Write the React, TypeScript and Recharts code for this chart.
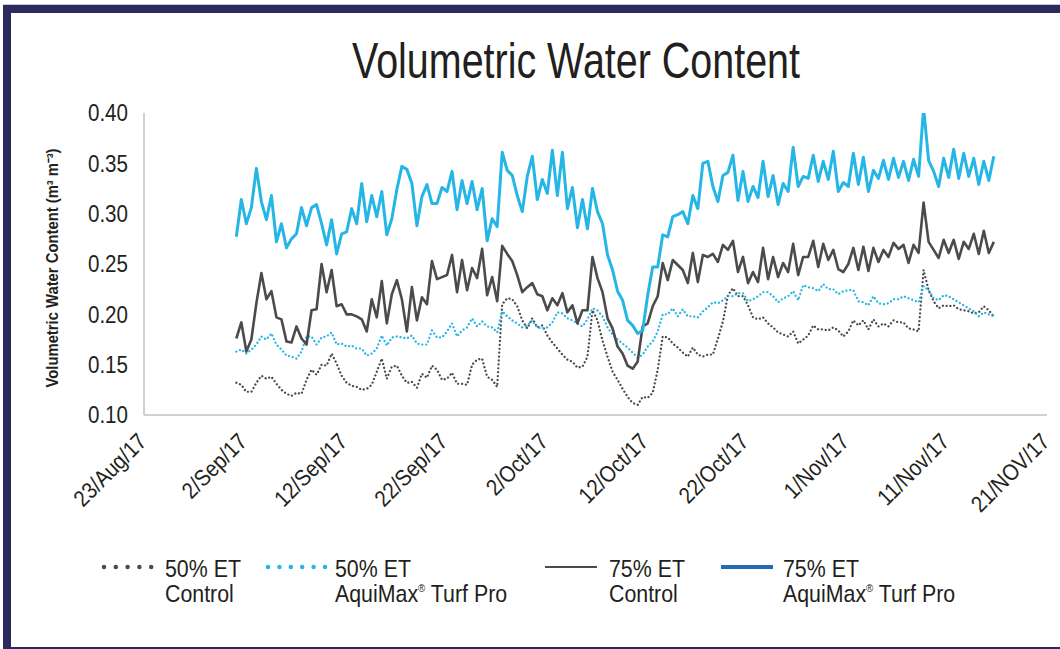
import { LineChart, Line, XAxis, YAxis } from 'recharts';

const FONT = '"Liberation Sans", Arial, Helvetica, sans-serif';
const INK = '#231f20';
const CYAN = '#26b6e6';
const GREY = '#4b4b4d';
const NAVY = '#2b2a5f';

// one reading every 12 h, the first on 1/Sep/17 (days counted from 23/Aug/17)
const FIRST_DAY = 9.2;
const STEP_DAYS = 0.5;

// 50% ET, control
const et50Control = [
  0.132, 0.130, 0.123, 0.123, 0.132, 0.139, 0.136, 0.138, 0.131, 0.125,
  0.121, 0.119, 0.122, 0.121, 0.135, 0.145, 0.140, 0.150, 0.149, 0.161,
  0.151, 0.139, 0.132, 0.129, 0.128, 0.125, 0.126, 0.130, 0.143, 0.156,
  0.136, 0.148, 0.149, 0.139, 0.132, 0.133, 0.127, 0.141, 0.137, 0.149,
  0.145, 0.135, 0.136, 0.142, 0.131, 0.131, 0.130, 0.150, 0.155, 0.156,
  0.138, 0.135, 0.128, 0.210, 0.216, 0.215, 0.208, 0.194, 0.186, 0.196,
  0.187, 0.189, 0.179, 0.172, 0.166, 0.160, 0.155, 0.153, 0.147, 0.148,
  0.158, 0.204, 0.194, 0.174, 0.158, 0.143, 0.135, 0.126, 0.118, 0.112,
  0.110, 0.118, 0.117, 0.122, 0.145, 0.178, 0.177, 0.171, 0.167, 0.162,
  0.158, 0.167, 0.160, 0.158, 0.160, 0.160, 0.176, 0.193, 0.219, 0.226,
  0.218, 0.218, 0.209, 0.197, 0.195, 0.197, 0.191, 0.187, 0.182, 0.180,
  0.178, 0.183, 0.171, 0.175, 0.179, 0.189, 0.185, 0.185, 0.184, 0.187,
  0.184, 0.178, 0.183, 0.194, 0.189, 0.194, 0.185, 0.195, 0.188, 0.191,
  0.188, 0.194, 0.192, 0.192, 0.186, 0.185, 0.183, 0.244, 0.224, 0.213,
  0.206, 0.209, 0.208, 0.209, 0.205, 0.204, 0.203, 0.201, 0.202, 0.208,
  0.204, 0.198,
];

// 50% ET, AquiMax Turf Pro
const et50Aquimax = [
  0.163, 0.165, 0.161, 0.165, 0.170, 0.178, 0.175, 0.181, 0.170, 0.165,
  0.159, 0.158, 0.156, 0.163, 0.178, 0.178, 0.170, 0.177, 0.178, 0.182,
  0.170, 0.171, 0.168, 0.169, 0.166, 0.166, 0.159, 0.161, 0.166, 0.179,
  0.169, 0.177, 0.178, 0.177, 0.176, 0.179, 0.171, 0.170, 0.170, 0.184,
  0.177, 0.177, 0.183, 0.191, 0.178, 0.184, 0.187, 0.196, 0.188, 0.193,
  0.188, 0.187, 0.182, 0.203, 0.198, 0.194, 0.191, 0.187, 0.189, 0.194,
  0.187, 0.186, 0.187, 0.192, 0.202, 0.201, 0.196, 0.194, 0.191, 0.188,
  0.195, 0.206, 0.204, 0.198, 0.187, 0.180, 0.175, 0.171, 0.167, 0.162,
  0.157, 0.160, 0.168, 0.173, 0.183, 0.200, 0.200, 0.206, 0.198, 0.205,
  0.198, 0.198, 0.197, 0.203, 0.207, 0.212, 0.211, 0.214, 0.218, 0.218,
  0.221, 0.221, 0.213, 0.215, 0.218, 0.222, 0.222, 0.218, 0.212, 0.216,
  0.218, 0.223, 0.214, 0.229, 0.227, 0.226, 0.223, 0.230, 0.225, 0.225,
  0.220, 0.223, 0.224, 0.224, 0.213, 0.212, 0.209, 0.218, 0.211, 0.210,
  0.211, 0.215, 0.215, 0.218, 0.216, 0.214, 0.212, 0.228, 0.224, 0.216,
  0.214, 0.219, 0.218, 0.215, 0.212, 0.209, 0.206, 0.203, 0.198, 0.202,
  0.200, 0.198,
];

// 75% ET, control
const et75Control = [
  0.176, 0.192, 0.163, 0.175, 0.211, 0.241, 0.215, 0.223, 0.197, 0.195,
  0.173, 0.172, 0.188, 0.176, 0.170, 0.204, 0.205, 0.250, 0.222, 0.244,
  0.208, 0.210, 0.200, 0.200, 0.198, 0.195, 0.183, 0.215, 0.197, 0.233,
  0.191, 0.220, 0.234, 0.215, 0.183, 0.227, 0.194, 0.217, 0.210, 0.253,
  0.235, 0.237, 0.239, 0.259, 0.222, 0.254, 0.224, 0.246, 0.236, 0.265,
  0.219, 0.237, 0.213, 0.268, 0.260, 0.253, 0.239, 0.222, 0.227, 0.231,
  0.220, 0.218, 0.204, 0.216, 0.209, 0.221, 0.202, 0.209, 0.191, 0.204,
  0.204, 0.257, 0.236, 0.222, 0.196, 0.186, 0.168, 0.161, 0.149, 0.146,
  0.153, 0.188, 0.191, 0.208, 0.218, 0.251, 0.234, 0.254, 0.249, 0.244,
  0.231, 0.261, 0.232, 0.259, 0.257, 0.260, 0.252, 0.269, 0.264, 0.273,
  0.242, 0.257, 0.231, 0.242, 0.232, 0.266, 0.235, 0.257, 0.237, 0.251,
  0.242, 0.270, 0.239, 0.257, 0.257, 0.273, 0.247, 0.270, 0.254, 0.264,
  0.245, 0.242, 0.250, 0.266, 0.244, 0.267, 0.243, 0.266, 0.252, 0.264,
  0.257, 0.271, 0.265, 0.269, 0.251, 0.269, 0.261, 0.311, 0.272, 0.264,
  0.256, 0.274, 0.261, 0.274, 0.255, 0.272, 0.265, 0.280, 0.260, 0.283,
  0.261, 0.272,
];

// 75% ET, AquiMax Turf Pro
const et75Aquimax = [
  0.277, 0.314, 0.290, 0.306, 0.345, 0.312, 0.294, 0.318, 0.272, 0.290,
  0.266, 0.275, 0.280, 0.306, 0.288, 0.306, 0.309, 0.290, 0.269, 0.294,
  0.260, 0.280, 0.282, 0.305, 0.290, 0.330, 0.292, 0.318, 0.297, 0.322,
  0.279, 0.295, 0.324, 0.347, 0.344, 0.330, 0.288, 0.317, 0.329, 0.310,
  0.310, 0.326, 0.322, 0.342, 0.304, 0.333, 0.310, 0.332, 0.304, 0.325,
  0.273, 0.295, 0.287, 0.361, 0.343, 0.338, 0.318, 0.302, 0.337, 0.357,
  0.314, 0.334, 0.320, 0.363, 0.318, 0.361, 0.305, 0.326, 0.286, 0.314,
  0.285, 0.325, 0.302, 0.290, 0.259, 0.244, 0.223, 0.214, 0.194, 0.189,
  0.181, 0.184, 0.219, 0.247, 0.247, 0.279, 0.277, 0.297, 0.299, 0.302,
  0.290, 0.318, 0.305, 0.350, 0.352, 0.327, 0.312, 0.338, 0.341, 0.358,
  0.313, 0.342, 0.312, 0.327, 0.316, 0.352, 0.317, 0.338, 0.309, 0.330,
  0.322, 0.366, 0.327, 0.337, 0.335, 0.358, 0.332, 0.352, 0.334, 0.362,
  0.322, 0.331, 0.327, 0.360, 0.329, 0.356, 0.322, 0.343, 0.335, 0.353,
  0.334, 0.355, 0.336, 0.352, 0.333, 0.354, 0.337, 0.405, 0.353, 0.342,
  0.327, 0.355, 0.336, 0.364, 0.335, 0.360, 0.337, 0.355, 0.329, 0.352,
  0.333, 0.357,
];

const dateTicks = [0, 10, 20, 30, 40, 50, 60, 70, 80, 90];
const dateLabels = [
  '23/Aug/17', '2/Sep/17', '12/Sep/17', '22/Sep/17', '2/Oct/17',
  '12/Oct/17', '22/Oct/17', '1/Nov/17', '11/Nov/17', '21/NOV/17',
];
const vwcTicks = [0.1, 0.15, 0.2, 0.25, 0.3, 0.35, 0.4];

const data = et50Control.map((v, i) => ({
  day: FIRST_DAY + i * STEP_DAYS,
  et50Control: v,
  et50Aquimax: et50Aquimax[i],
  et75Control: et75Control[i],
  et75Aquimax: et75Aquimax[i],
}));

// condensed-looking tick labels
const YTick = ({ y, payload }: any) => (
  <g transform={`translate(128 ${y}) scale(0.875 1)`}>
    <text x={0} y={0} dy="0.36em" textAnchor="end" fontSize={23.5} fill={INK} fontFamily={FONT}>
      {Number(payload.value).toFixed(2)}
    </text>
  </g>
);

const XTick = ({ x, payload }: any) => (
  <g transform={`translate(${x + 4} 443) rotate(-45) scale(0.875 1)`}>
    <text x={0} y={0} textAnchor="end" fontSize={23} fill={INK} fontFamily={FONT}>
      {dateLabels[Math.round(payload.value / 10)]}
    </text>
  </g>
);

type LegendItem = {
  first: string;
  second: string;
  sup?: boolean;
  x1: number;
  x2: number;
  textX: number;
  color: string;
  width: number;
  dash?: string;
};

const legendItems: LegendItem[] = [
  { first: '50% ET', second: 'Control', x1: 104, x2: 163, textX: 165, color: GREY, width: 4.5, dash: '0 11.8' },
  { first: '50% ET', second: 'AquiMax', sup: true, x1: 268, x2: 325, textX: 335, color: CYAN, width: 4.5, dash: '0 11.4' },
  { first: '75% ET', second: 'Control', x1: 545, x2: 597, textX: 609, color: GREY, width: 2 },
  { first: '75% ET', second: 'AquiMax', sup: true, x1: 721, x2: 773, textX: 783, color: '#1f6db5', width: 4 },
];

const LegendText = ({ x, y, children }: any) => (
  <g transform={`translate(${x} ${y}) scale(0.89 1)`}>
    <text x={0} y={0} fontSize={24} fill={INK} fontFamily={FONT}>
      {children}
    </text>
  </g>
);

export default function App() {
  return (
    <div style={{ position: 'absolute', left: 0, top: 0, width: 1060, height: 649, background: '#fff' }}>
      <LineChart
        width={1060}
        height={649}
        data={data}
        margin={{ top: 113, right: 13, bottom: 0, left: 0 }}
      >
        <XAxis
          dataKey="day"
          type="number"
          domain={[0, 90]}
          ticks={dateTicks}
          interval={0}
          tick={<XTick />}
          tickLine={false}
          axisLine={{ stroke: '#c2c2c2', strokeWidth: 1.5 }}
          height={234}
        />
        <YAxis
          type="number"
          domain={[0.1, 0.4]}
          ticks={vwcTicks}
          interval={0}
          allowDataOverflow
          tick={<YTick />}
          tickLine={false}
          axisLine={{ stroke: '#c2c2c2', strokeWidth: 1.5 }}
          width={144}
        />
        <Line
          dataKey="et50Control"
          stroke={GREY}
          strokeWidth={2.3}
          strokeDasharray="0.01 3.9"
          strokeLinecap="round"
          dot={false}
          isAnimationActive={false}
        />
        <Line
          dataKey="et50Aquimax"
          stroke={CYAN}
          strokeWidth={2.3}
          strokeDasharray="0.01 3.9"
          strokeLinecap="round"
          dot={false}
          isAnimationActive={false}
        />
        <Line
          dataKey="et75Control"
          stroke={GREY}
          strokeWidth={2.6}
          strokeLinejoin="round"
          dot={false}
          isAnimationActive={false}
        />
        <Line
          dataKey="et75Aquimax"
          stroke={CYAN}
          strokeWidth={3}
          strokeLinejoin="round"
          dot={false}
          isAnimationActive={false}
        />
      </LineChart>

      {/* frame, title, axis title and legend */}
      <svg
        width={1060}
        height={649}
        style={{ position: 'absolute', left: 0, top: 0, pointerEvents: 'none' }}
      >
        <rect x={3} y={4} width={1057} height={1} fill="#c9c9d2" />
        <rect x={3} y={5} width={1057} height={8} fill={NAVY} />
        <rect x={3} y={5} width={8} height={644} fill={NAVY} />
        <rect x={3} y={647} width={1057} height={2} fill={NAVY} />

        <text
          x={352}
          y={78}
          fontSize={50}
          fill={INK}
          fontFamily={FONT}
          textLength={448}
          lengthAdjust="spacingAndGlyphs"
        >
          Volumetric Water Content
        </text>

        <text
          transform="translate(57.5 268) rotate(-90)"
          x={0}
          y={0}
          textAnchor="middle"
          fontSize={16}
          fontWeight="bold"
          fill={INK}
          fontFamily={FONT}
          textLength={239}
          lengthAdjust="spacingAndGlyphs"
        >
          Volumetric Water Content (m³ m⁻³)
        </text>

        {legendItems.map((item) => (
          <g key={item.textX}>
            <line
              x1={item.x1}
              x2={item.x2}
              y1={567}
              y2={567}
              stroke={item.color}
              strokeWidth={item.width}
              strokeDasharray={item.dash}
              strokeLinecap={item.dash ? 'round' : 'butt'}
            />
            <LegendText x={item.textX} y={577}>{item.first}</LegendText>
            <LegendText x={item.textX} y={602}>
              {item.second}
              {item.sup && (
                <>
                  <tspan fontSize={11} dy={-10}>®</tspan>
                  <tspan dy={10}> Turf Pro</tspan>
                </>
              )}
            </LegendText>
          </g>
        ))}
      </svg>
    </div>
  );
}
